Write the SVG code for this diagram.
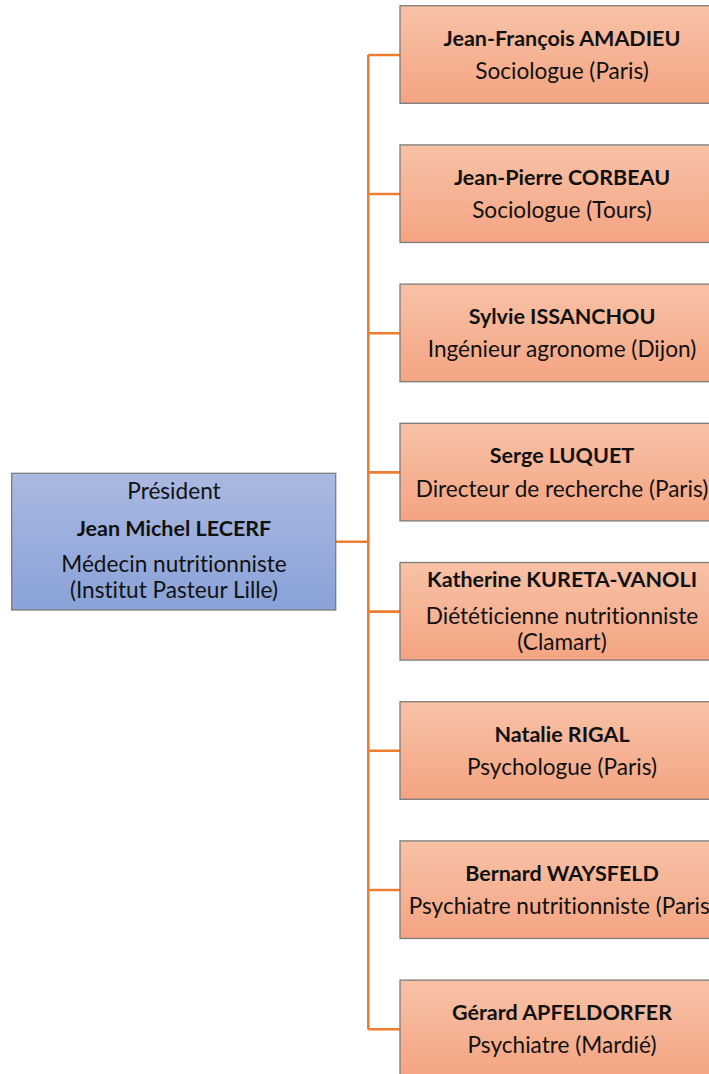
<svg xmlns="http://www.w3.org/2000/svg" width="709" height="1074" viewBox="0 0 709 1074">
<defs>
<linearGradient id="gBlue" x1="0" y1="0" x2="0" y2="1">
<stop offset="0" stop-color="#AAB9E1"/>
<stop offset="1" stop-color="#8AA2D8"/>
</linearGradient>
<linearGradient id="gOrange" x1="0" y1="0" x2="0" y2="1">
<stop offset="0" stop-color="#F8C2A7"/>
<stop offset="1" stop-color="#F4A482"/>
</linearGradient>
</defs>
<style>
.box{stroke:#7C7C7C;stroke-width:1.3}
.blue{fill:url(#gBlue)}
.orange{fill:url(#gOrange)}
.t{font-family:Lato,"Open Sans","Liberation Sans",sans-serif;font-size:22.6px;fill:#111;text-anchor:middle;font-variant-ligatures:none;font-feature-settings:"liga" 0}
.b{font-weight:bold;font-size:21.5px}
.conn{stroke:#ED7D31;stroke-width:2.6;fill:none}
</style>
<rect width="709" height="1074" fill="#fff"/>
<g id="connectors">
<path class="conn" d="M336,541.7 H368.3 M368.3,55 V1029.5"/>
<path class="conn" d="M368.3,55 H400 M368.3,194 H400 M368.3,333.2 H400 M368.3,472.4 H400 M368.3,611.6 H400 M368.3,750.8 H400 M368.3,890 H400 M368.3,1029.2 H400"/>
</g>
<g id="president">
<rect class="box blue" x="11.7" y="473.3" width="324" height="136.7"/>
<text class="t" x="174" y="499.3">Président</text>
<text class="t b" x="174" y="536">Jean Michel LECERF</text>
<text class="t" x="174" y="571.7">Médecin nutritionniste</text>
<text class="t" x="174" y="598.3">(Institut Pasteur Lille)</text>
</g>
<g id="amadieu">
<rect class="box orange" x="400" y="5.7" width="324" height="97.6"/>
<text class="t b" x="562" y="45.5">Jean-François AMADIEU</text>
<text class="t" x="562" y="79">Sociologue (Paris)</text>
</g>
<g id="corbeau">
<rect class="box orange" x="400" y="144.9" width="324" height="97.6"/>
<text class="t b" x="562" y="184.7">Jean-Pierre CORBEAU</text>
<text class="t" x="562" y="218.2">Sociologue (Tours)</text>
</g>
<g id="issanchou">
<rect class="box orange" x="400" y="284.1" width="324" height="97.6"/>
<text class="t b" x="562" y="323.9">Sylvie ISSANCHOU</text>
<text class="t" x="562" y="357.4">Ingénieur agronome (Dijon)</text>
</g>
<g id="luquet">
<rect class="box orange" x="400" y="423.3" width="324" height="97.6"/>
<text class="t b" x="562" y="463.1">Serge LUQUET</text>
<text class="t" x="562" y="496.6">Directeur de recherche (Paris)</text>
</g>
<g id="kureta">
<rect class="box orange" x="400" y="562.5" width="324" height="97.6"/>
<text class="t b" x="562" y="587.3">Katherine KURETA-VANOLI</text>
<text class="t" x="562" y="624">Diététicienne nutritionniste</text>
<text class="t" x="562" y="650">(Clamart)</text>
</g>
<g id="rigal">
<rect class="box orange" x="400" y="701.7" width="324" height="97.6"/>
<text class="t b" x="562" y="741.5">Natalie RIGAL</text>
<text class="t" x="562" y="775">Psychologue (Paris)</text>
</g>
<g id="waysfeld">
<rect class="box orange" x="400" y="840.9" width="324" height="97.6"/>
<text class="t b" x="562" y="880.7">Bernard WAYSFELD</text>
<text class="t" x="562" y="914.2">Psychiatre nutritionniste (Paris)</text>
</g>
<g id="apfeldorfer">
<rect class="box orange" x="400" y="980.1" width="324" height="97.6"/>
<text class="t b" x="562" y="1019.9">Gérard APFELDORFER</text>
<text class="t" x="562" y="1053.4">Psychiatre (Mardié)</text>
</g>
</svg>
